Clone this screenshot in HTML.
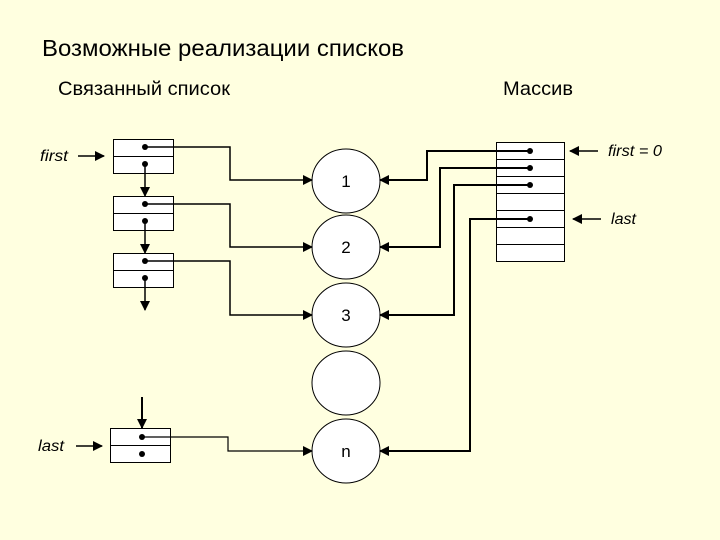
<!DOCTYPE html>
<html><head><meta charset="utf-8"><style>
html,body{margin:0;padding:0;background:#FFFFE0;}
svg{display:block;}
text{font-family:"Liberation Sans",sans-serif;fill:#000;}
</style></head><body>
<svg width="720" height="540" viewBox="0 0 720 540" xmlns="http://www.w3.org/2000/svg">
<defs>
<marker id="a" markerWidth="10" markerHeight="10" refX="9" refY="5" orient="auto" markerUnits="userSpaceOnUse">
<path d="M0,0 L10,5 L0,10 Z" fill="#000"/></marker>
</defs>
<rect width="720" height="540" fill="#FFFFE0"/>
<text x="42" y="56" font-size="23" textLength="362" lengthAdjust="spacingAndGlyphs">Возможные реализации списков</text>
<text x="58" y="95" font-size="19.5" textLength="172" lengthAdjust="spacingAndGlyphs">Связанный список</text>
<text x="503" y="95" font-size="19.5" textLength="70" lengthAdjust="spacingAndGlyphs">Массив</text>

<g fill="#fff" stroke="#000" stroke-width="1">
<ellipse cx="346" cy="181" rx="34" ry="32"/>
<ellipse cx="346" cy="247" rx="34" ry="32"/>
<ellipse cx="346" cy="315" rx="34" ry="32"/>
<ellipse cx="346" cy="383" rx="34" ry="32"/>
<ellipse cx="346" cy="451" rx="34" ry="32"/>
</g>
<g font-size="17" text-anchor="middle">
<text x="346" y="187">1</text><text x="346" y="253">2</text><text x="346" y="321">3</text><text x="346" y="457">n</text>
</g>

<g fill="#fff" stroke="#000" stroke-width="1">
<rect x="113.5" y="139.5" width="60" height="34"/><line x1="113" y1="156.5" x2="174" y2="156.5"/>
<rect x="113.5" y="196.5" width="60" height="34"/><line x1="113" y1="213.5" x2="174" y2="213.5"/>
<rect x="113.5" y="253.5" width="60" height="34"/><line x1="113" y1="270.5" x2="174" y2="270.5"/>
<rect x="110.5" y="428.5" width="60" height="34"/><line x1="110" y1="445.5" x2="171" y2="445.5"/>
</g>
<g fill="#000">
<circle cx="145" cy="147" r="3"/><circle cx="145" cy="164" r="3"/>
<circle cx="145" cy="204" r="3"/><circle cx="145" cy="221" r="3"/>
<circle cx="145" cy="261" r="3"/><circle cx="145" cy="278" r="3"/>
<circle cx="142" cy="437" r="3"/><circle cx="142" cy="454" r="3"/>
</g>
<g stroke="#000" stroke-width="1.5" fill="none">
<line x1="145" y1="164" x2="145" y2="196" marker-end="url(#a)"/>
<line x1="145" y1="221" x2="145" y2="253" marker-end="url(#a)"/>
<line x1="145" y1="278" x2="145" y2="310" marker-end="url(#a)"/>
<line x1="142" y1="397" x2="142" y2="428" stroke-width="2" marker-end="url(#a)"/>
</g>
<g stroke="#000" fill="none">
<polyline points="145,147 230,147 230,180 312,180" stroke-width="1.5" marker-end="url(#a)"/>
<polyline points="145,204 230,204 230,247 312,247" stroke-width="1.5" marker-end="url(#a)"/>
<polyline points="145,261 230,261 230,315 312,315" stroke-width="1.5" marker-end="url(#a)"/>
<polyline points="142,437 228,437 228,451 312,451" stroke-width="1.2" marker-end="url(#a)"/>
<line x1="78" y1="156" x2="104" y2="156" stroke-width="1.5" marker-end="url(#a)"/>
<line x1="76" y1="446" x2="102" y2="446" stroke-width="1.5" marker-end="url(#a)"/>
</g>
<text x="40" y="161" font-size="15.5" font-style="italic" textLength="28" lengthAdjust="spacingAndGlyphs">first</text>
<text x="38" y="451" font-size="15.5" font-style="italic" textLength="26" lengthAdjust="spacingAndGlyphs">last</text>

<g fill="#fff" stroke="#000" stroke-width="1">
<rect x="496.5" y="142.5" width="68" height="119"/>
<line x1="496" y1="159.5" x2="565" y2="159.5"/>
<line x1="496" y1="176.5" x2="565" y2="176.5"/>
<line x1="496" y1="193.5" x2="565" y2="193.5"/>
<line x1="496" y1="210.5" x2="565" y2="210.5"/>
<line x1="496" y1="227.5" x2="565" y2="227.5"/>
<line x1="496" y1="244.5" x2="565" y2="244.5"/>
</g>
<g fill="#000">
<circle cx="530" cy="151" r="3"/><circle cx="530" cy="168" r="3"/>
<circle cx="530" cy="185" r="3"/><circle cx="530" cy="219" r="3"/>
</g>
<g stroke="#000" stroke-width="2" fill="none">
<polyline points="530,151 427,151 427,180 380,180" marker-end="url(#a)"/>
<polyline points="530,168 440,168 440,247 380,247" marker-end="url(#a)"/>
<polyline points="530,185 454,185 454,315 380,315" marker-end="url(#a)"/>
<polyline points="530,219 470,219 470,451 380,451" marker-end="url(#a)"/>
<line x1="598" y1="151" x2="570" y2="151" stroke-width="1.5" marker-end="url(#a)"/>
<line x1="601" y1="219" x2="573" y2="219" stroke-width="1.5" marker-end="url(#a)"/>
</g>
<text x="608" y="156" font-size="15.5" font-style="italic" textLength="54" lengthAdjust="spacingAndGlyphs">first = 0</text>
<text x="611" y="224" font-size="15.5" font-style="italic" textLength="25" lengthAdjust="spacingAndGlyphs">last</text>
</svg>
</body></html>
